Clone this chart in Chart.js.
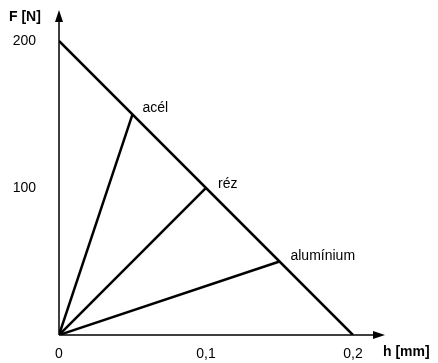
<!DOCTYPE html>
<html>
<head>
<meta charset="utf-8">
<script src="https://cdn.jsdelivr.net/npm/chart.js@4/dist/chart.umd.min.js"></script>
<style>
  html, body { margin: 0; padding: 0; background: #fff; }
  #wrap { width: 438px; height: 363px; }
</style>
</head>
<body>
<div id="wrap"><canvas id="grafica"></canvas></div>
<script>
// anyagok es a munkapontjuk (h [mm], F [N])
var anyagok = ["acél", "réz", "alumínium"];
var elmozdulas = [0.05, 0.1, 0.15];
var erok = [150, 100, 50];
// a terheles egyenese
var egyenesH = [0, 0.2];
var egyenesF = [200, 0];
var xTickek = [0, 0.1, 0.2];
var yTickek = [100, 200];

var betu = "'Liberation Sans', Arial, sans-serif";

var datasets = [];
datasets.push({
    label: "egyenes",
    data: egyenesH.map(function (h, i) { return { x: h, y: egyenesF[i] }; }),
    showLine: true,
    borderColor: "#000",
    borderWidth: 2.5,
    pointRadius: 0
});
for (var i = 0; i < anyagok.length; i++) {
    datasets.push({
        label: anyagok[i],
        data: [{ x: 0, y: 0 }, { x: elmozdulas[i], y: erok[i] }],
        showLine: true,
        borderColor: "#000",
        borderWidth: 2.5,
        pointRadius: 0
    });
}

// a skalak ne kerjenek plusz helyet a feliratoknak
function nullaPadding(scale) {
    scale.paddingTop = 0;
    scale.paddingBottom = 0;
    scale.paddingLeft = 0;
    scale.paddingRight = 0;
}

var tengelyek = {
    id: "tengelyek",
    afterDatasetsDraw: function (chart) {
        var ctx = chart.ctx;
        var a = chart.chartArea;
        var sx = chart.scales.x, sy = chart.scales.y;
        var x0 = sx.getPixelForValue(0), y0 = sy.getPixelForValue(0);
        ctx.save();
        ctx.strokeStyle = "#000";
        ctx.fillStyle = "#000";
        ctx.lineWidth = 1.5;
        ctx.beginPath();
        ctx.moveTo(x0, y0);
        ctx.lineTo(x0, a.top + 8);
        ctx.moveTo(x0, y0);
        ctx.lineTo(a.right - 8, y0);
        ctx.stroke();
        // nyilak
        ctx.beginPath();
        ctx.moveTo(x0, a.top);
        ctx.lineTo(x0 - 4, a.top + 12);
        ctx.lineTo(x0 + 4, a.top + 12);
        ctx.closePath();
        ctx.fill();
        ctx.beginPath();
        ctx.moveTo(a.right, y0);
        ctx.lineTo(a.right - 12, y0 - 4);
        ctx.lineTo(a.right - 12, y0 + 4);
        ctx.closePath();
        ctx.fill();
        // tengelyfeliratok
        ctx.font = "bold 14px " + betu;
        ctx.textBaseline = "middle";
        ctx.textAlign = "left";
        ctx.fillText("F [N]", 9, 17);
        ctx.fillText("h [mm]", a.right - 2, 352);
        // anyagok nevei a munkapontoknal
        ctx.font = "14px " + betu;
        var eltolas = [[10, -6], [12, -4], [11, -5]];
        for (var i = 0; i < anyagok.length; i++) {
            var px = sx.getPixelForValue(elmozdulas[i]);
            var py = sy.getPixelForValue(erok[i]);
            ctx.fillText(anyagok[i], px + eltolas[i][0], py + eltolas[i][1]);
        }
        ctx.restore();
    }
};

var grafika = new Chart(document.getElementById("grafica"), {
    type: "scatter",
    data: { datasets: datasets },
    plugins: [tengelyek],
    options: {
        responsive: true,
        maintainAspectRatio: false,
        animation: false,
        layout: { padding: { top: 10, right: 53, left: 0, bottom: 0 } },
        plugins: { legend: { display: false }, tooltip: { enabled: false } },
        scales: {
            x: {
                type: "linear",
                min: 0,
                max: 0.2218,
                grid: { display: false, drawTicks: false },
                border: { display: false },
                afterBuildTicks: function (scale) {
                    scale.ticks = xTickek.map(function (v) { return { value: v }; });
                },
                afterFit: function (scale) { scale.height = 28; nullaPadding(scale); },
                ticks: {
                    padding: 11,
                    color: "#000",
                    font: { size: 14, family: betu },
                    callback: function (v) { return String(v).replace(".", ","); }
                }
            },
            y: {
                type: "linear",
                min: 0,
                max: 221,
                grid: { display: false, drawTicks: false },
                border: { display: false },
                afterBuildTicks: function (scale) {
                    scale.ticks = yTickek.map(function (v) { return { value: v }; });
                },
                afterFit: function (scale) { scale.width = 59; nullaPadding(scale); },
                ticks: {
                    padding: 23,
                    color: "#000",
                    font: { size: 14, family: betu }
                }
            }
        }
    }
});
</script>
</body>
</html>
